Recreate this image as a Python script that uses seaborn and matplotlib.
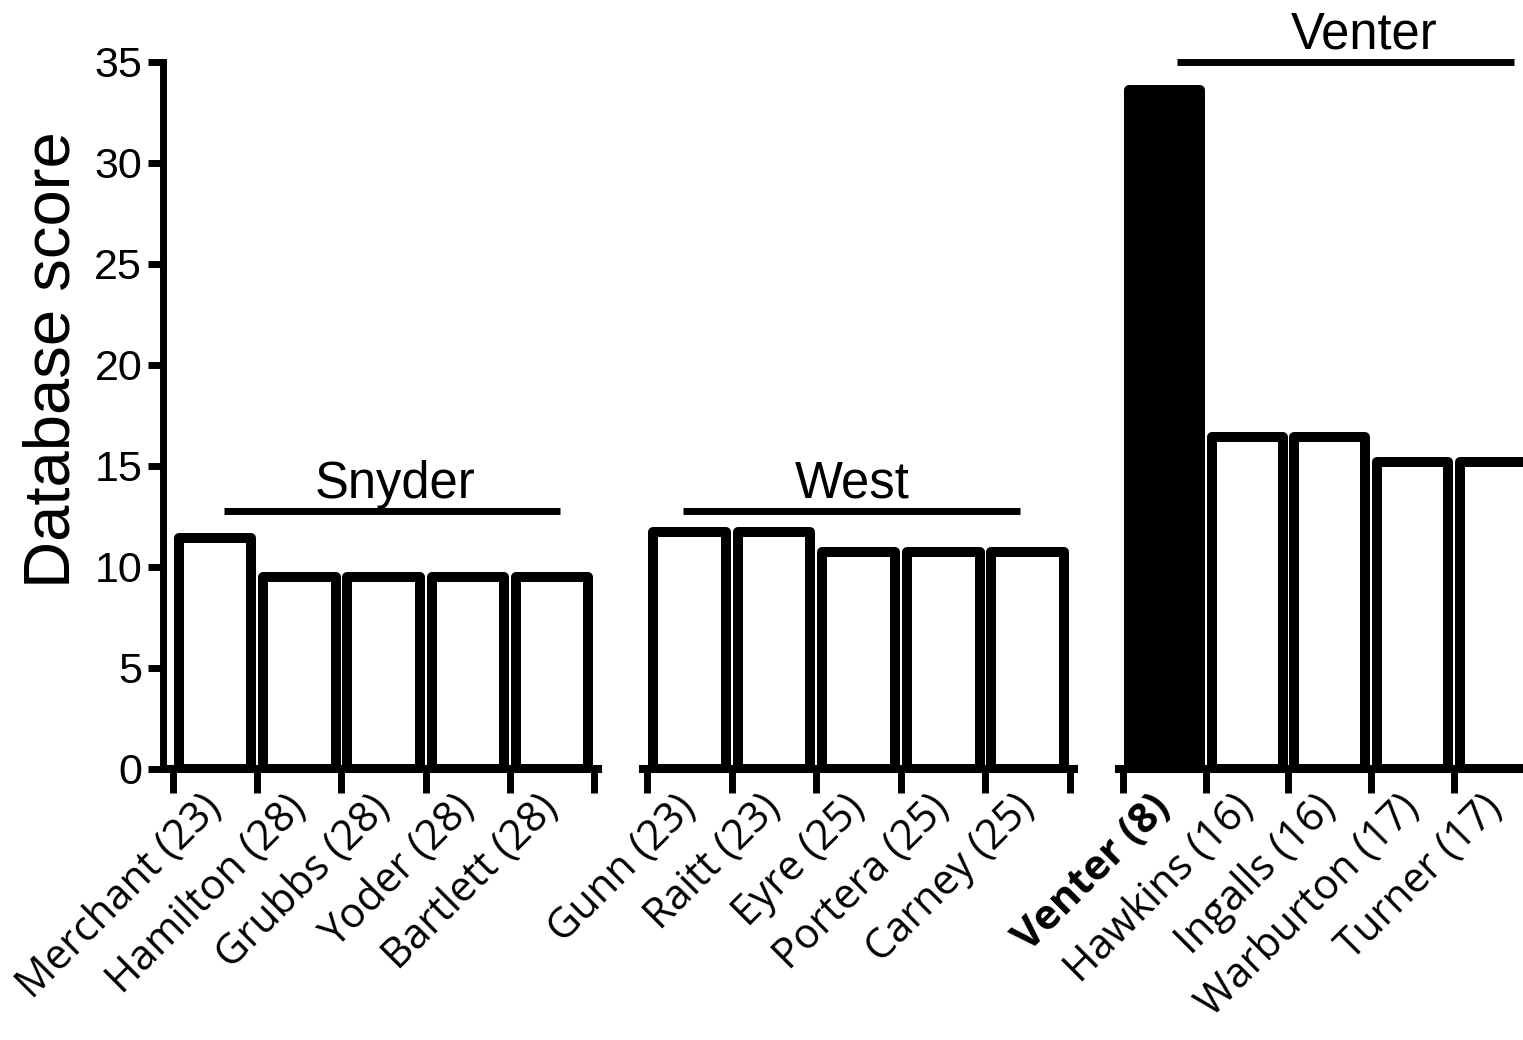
import matplotlib
matplotlib.use("Agg")
import matplotlib.pyplot as plt
import seaborn as sns
import pandas as pd
import numpy as np

# ---- data ----
group_titles = ["Snyder", "West", "Venter"]
snyder_names = ["Merchant (23)", "Hamilton (28)", "Grubbs (28)", "Yoder (28)", "Bartlett (28)"]
snyder_scores = [11.4, 9.5, 9.5, 9.5, 9.5]
west_names = ["Gunn (23)", "Raitt (23)", "Eyre (25)", "Portera (25)", "Carney (25)"]
west_scores = [11.7, 11.7, 10.7, 10.7, 10.7]
venter_names = ["Venter (8)", "Hawkins (16)", "Ingalls (16)", "Warburton (17)", "Turner (17)"]
venter_scores = [33.6, 16.4, 16.4, 15.2, 15.2]
highlight = "Venter (8)"
y_ticks = [0, 5, 10, 15, 20, 25, 30, 35]
y_label = "Database score"

sns.set_style("ticks")
plt.rcParams["font.family"] = ["Liberation Sans", "DejaVu Sans"]
for k in ["text.color", "axes.labelcolor", "xtick.color", "ytick.color", "axes.edgecolor"]:
    plt.rcParams[k] = "black"

W, H = 1523, 1040
fig = plt.figure(figsize=(W / 100, H / 100), dpi=100)

y0_px, y35_px = 768.5, 61.7
bottom = 1 - y0_px / H
height = (y0_px - y35_px) / H

# panel geometry: (left px, width px, xlim, group-line x0, x1, text x, line y, text y)
panels = [
    (snyder_names, snyder_scores, 163.0, 435.3, (-0.62, 4.55), 0.10, 4.10, 2.13, 12.73, 13.4),
    (west_names, west_scores, 642.8, 431.5, (-0.55, 4.55), -0.07, 3.91, 1.93, 12.73, 13.4),
    (venter_names, venter_scores, 1118.9, 421.8, (-0.55, 4.55), 0.15, 4.23, 2.41, 35.0, 35.65),
]

for i, (names, scores, left, width, xlim, lx0, lx1, tx, ly, ty) in enumerate(panels):
    ax = fig.add_axes([left / W, bottom, width / W, height])
    df = pd.DataFrame({"name": names, "score": scores})
    palette = {n: ("black" if n == highlight else "white") for n in names}
    sns.barplot(data=df, x="name", y="score", hue="name", palette=palette,
                legend=False, edgecolor="black", linewidth=7.2, width=0.86,
                saturation=1, ax=ax)
    for p in ax.patches:
        p.set_joinstyle("round")
    ax.set_xlim(*xlim)
    ax.set_ylim(0, 35)
    ax.set_xlabel("")
    ax.set_ylabel("")

    # boundary ticks (major), labels at bar centers (minor)
    ax.set_xticks(np.arange(-0.5, len(names), 1.0))
    ax.set_xticklabels([])
    ax.set_xticks(np.arange(len(names)), names, minor=True)
    ax.tick_params(axis="x", which="major", length=17, width=5, direction="out", color="black")
    ax.tick_params(axis="x", which="minor", length=0, pad=24)
    for lbl in ax.get_xticklabels(minor=True):
        lbl.set_rotation(45)
        lbl.set_ha("right")
        lbl.set_va("center")
        lbl.set_rotation_mode("anchor")
        lbl.set_fontfamily(["Open Sans", "DejaVu Sans"])
        lbl.set_fontsize(30)
        lbl.set_color("black")
        if lbl.get_text() == highlight:
            lbl.set_fontweight("bold")

    ax.spines["top"].set_visible(False)
    ax.spines["right"].set_visible(False)
    ax.spines["bottom"].set_linewidth(5.8)
    ax.spines["bottom"].set_color("black")
    if i == 0:
        ax.spines["bottom"].set_bounds(-0.53, 4.55)
        ax.spines["left"].set_linewidth(5)
        ax.spines["left"].set_color("black")
        ax.spines["left"].set_bounds(0, 35)
        ax.set_yticks(y_ticks)
        ax.tick_params(axis="y", length=11, width=5, labelsize=31, pad=4, color="black",
                       labelcolor="black")
    else:
        ax.spines["left"].set_visible(False)
        ax.set_yticks([])

    ax.plot([lx0, lx1], [ly, ly], color="black", lw=5, clip_on=False, solid_capstyle="butt")
    ax.text(tx, ty, group_titles[i], ha="center", va="baseline", fontsize=36.5,
            color="black", clip_on=False)

fig.text(52 / W, 1 - 360 / H, y_label, rotation=90, ha="center", va="center",
         fontsize=47, color="black")

fig.savefig("out.png", dpi=100)
